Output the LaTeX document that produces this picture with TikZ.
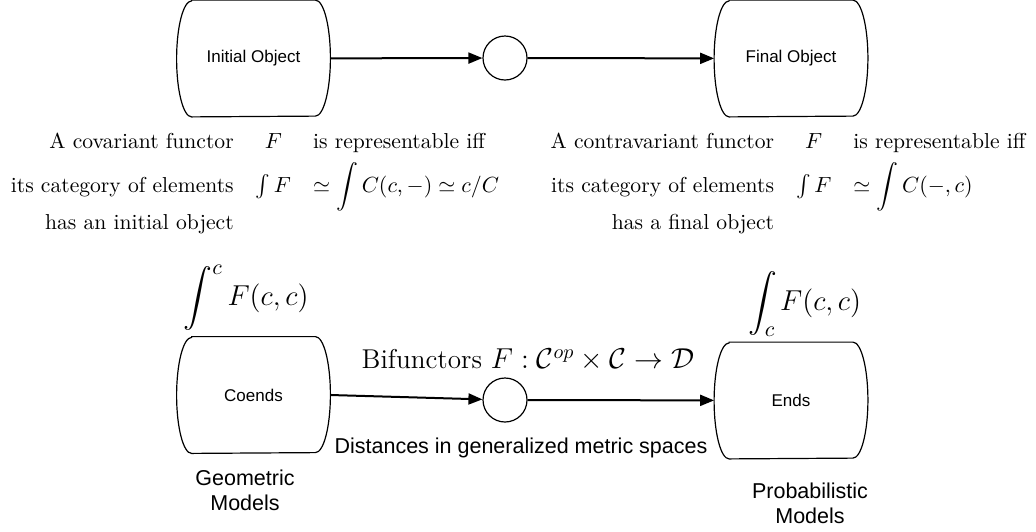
\documentclass[tikz,border=0pt]{standalone}
\usepackage{amsmath}
\usepackage{fontspec}
\setsansfont{Liberation Sans}
\usetikzlibrary{arrows.meta}

\begin{document}
\begin{tikzpicture}[>={Triangle[length=7pt,width=5.5pt]}, x=0.5pt, y=-0.5pt,
    barrel/.style={minimum width=76.5pt, minimum height=58pt, inner sep=0pt, font=\sffamily\fontsize{8.5}{10}\selectfont},
    outline/.style={line width=0.6pt},
    joint/.style={circle, draw, line width=0.6pt, minimum size=22pt, inner sep=0pt},
    link/.style={->, line width=1pt},
    lbl/.style={font=\sffamily\fontsize{10.75}{12.5}\selectfont, align=center},
    serif/.style={font=\fontsize{10.8}{13}\selectfont, inner sep=0pt}]

    \useasboundingbox (0,0) rectangle (1036,531);
    \setlength{\tabcolsep}{5.5pt}

    % Objects
    \node[barrel] (init) at (253.5,58.5) {Initial Object};
    \node[barrel] (final) at (791,58.5) {Final Object};
    \node[joint] (top) at (505,58) {};

    \draw[link] (init) -- (top);
    \draw[link] (top) -- (final);

    % Representability
    \node[serif] (cov) at (255,184) {\begin{tabular}{@{}r c l@{}}
        A covariant functor & $F$ & is representable iff\\[3pt]
        its category of elements & $\int F$ & $\simeq \displaystyle\int C(c,-) \simeq c/C$\\[1.5pt]
        has an initial object & &
    \end{tabular}};
    \node[serif] (contra) at (788,184) {\begin{tabular}{@{}r c l@{}}
        A contravariant functor & $F$ & is representable iff\\[3pt]
        its category of elements & $\int F$ & $\simeq \displaystyle\int C(-,c)$\\[1.5pt]
        has a final object & &
    \end{tabular}};

    % Coends and ends
    \node[barrel] (coend) at (253.5,395) {Coends};
    \node[barrel] (ends) at (791,400.5) {Ends};
    \node[joint] (bot) at (505,400) {};

    \draw[link] (coend.east) -- (bot);
    \draw[link] (bot) -- (ends);

    \node[font=\fontsize{15}{18}\selectfont] (coint) at (246,298) {$\displaystyle\int^c F(c,c)$};
    \node[font=\fontsize{15}{18}\selectfont] (endint) at (805,304) {$\displaystyle\int_c F(c,c)$};
    \node[font=\fontsize{13.6}{16}\selectfont] (bifun) at (528,360) {Bifunctors $F : \mathcal{C}^{op} \times \mathcal{C} \to \mathcal{D}$};
    \node[lbl] (dist) at (521,448) {Distances in generalized metric spaces};
    \node[lbl] (geo) at (245,490) {Geometric\\Models};
    \node[lbl] (prob) at (810,503) {Probabilistic\\Models};

    % Outlines
    \foreach \n in {init,final,coend,ends}
      \draw[outline] ([xshift=7.5pt]\n.north west) -- ([xshift=-7.5pt]\n.north east)
        arc[start angle=90, end angle=-90, x radius=7.5pt, y radius=29pt]
        -- ([xshift=7.5pt]\n.south west)
        arc[start angle=270, end angle=90, x radius=7.5pt, y radius=29pt] -- cycle;
\end{tikzpicture}
\end{document}
